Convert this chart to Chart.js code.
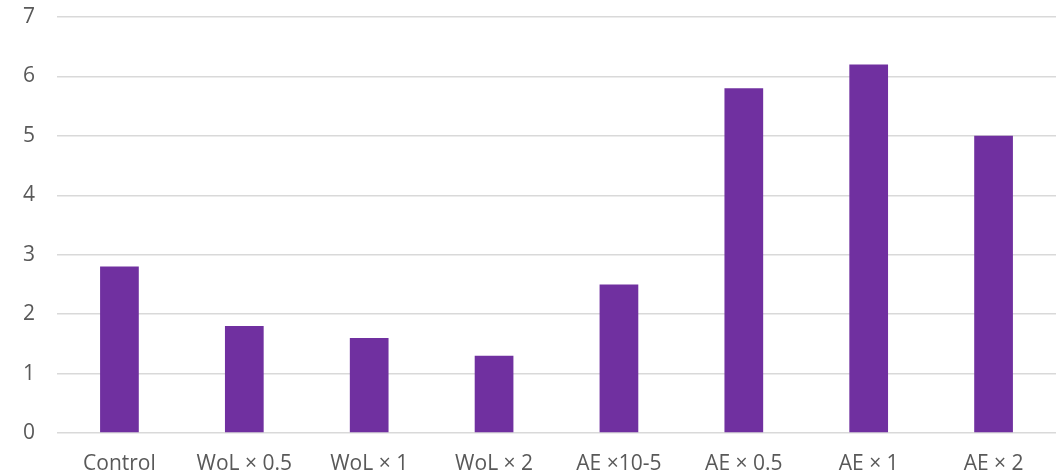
<!DOCTYPE html>
<html>
<head>
<meta charset="utf-8">
<script src="https://cdn.jsdelivr.net/npm/chart.js@4/dist/chart.umd.min.js"></script>
<style>
  html, body { margin: 0; padding: 0; background: #ffffff; }
  #wrap { width: 1056px; height: 476px; position: relative; }
</style>
</head>
<body>
<div id="wrap"><canvas id="chart"></canvas></div>
<script>
// Treatment groups and measured values
const categories = ['Control', 'WoL × 0.5', 'WoL × 1', 'WoL × 2', 'AE ×10-5', 'AE × 0.5', 'AE × 1', 'AE × 2'];
const values = [2.8, 1.8, 1.6, 1.3, 2.5, 5.8, 6.2, 5.0];
const yTicks = [0, 1, 2, 3, 4, 5, 6, 7];

const textColor = '#595959';
const gridColor = '#d9d9d9';
const barColor = '#7030a0';
const labelFont = { family: '"Open Sans"', size: 21 };

new Chart(document.getElementById('chart'), {
  type: 'bar',
  data: {
    labels: categories,
    datasets: [{
      data: values,
      backgroundColor: barColor,
      borderWidth: 0,
      categoryPercentage: 1.0,
      barPercentage: 0.31
    }]
  },
  options: {
    responsive: true,
    maintainAspectRatio: false,
    animation: false,
    layout: { padding: { top: 17, right: 0, bottom: 0, left: 0 } },
    plugins: { legend: { display: false }, tooltip: { enabled: false } },
    scales: {
      x: {
        grid: { display: false },
        border: { display: false },
        afterFit: (scale) => { scale.height = 43; },
        ticks: {
          color: textColor,
          font: labelFont,
          padding: 10,
          maxRotation: 0,
          autoSkip: false
        }
      },
      y: {
        min: 0,
        max: 7,
        afterBuildTicks: (scale) => { scale.ticks = yTicks.map(v => ({ value: v })); },
        afterFit: (scale) => { scale.width = 57; scale.paddingTop = 0; scale.paddingBottom = 0; },
        grid: { color: gridColor, lineWidth: 1.5, drawTicks: false },
        border: { display: false },
        ticks: {
          color: textColor,
          font: labelFont,
          padding: 22
        }
      }
    }
  }
});
</script>
</body>
</html>
